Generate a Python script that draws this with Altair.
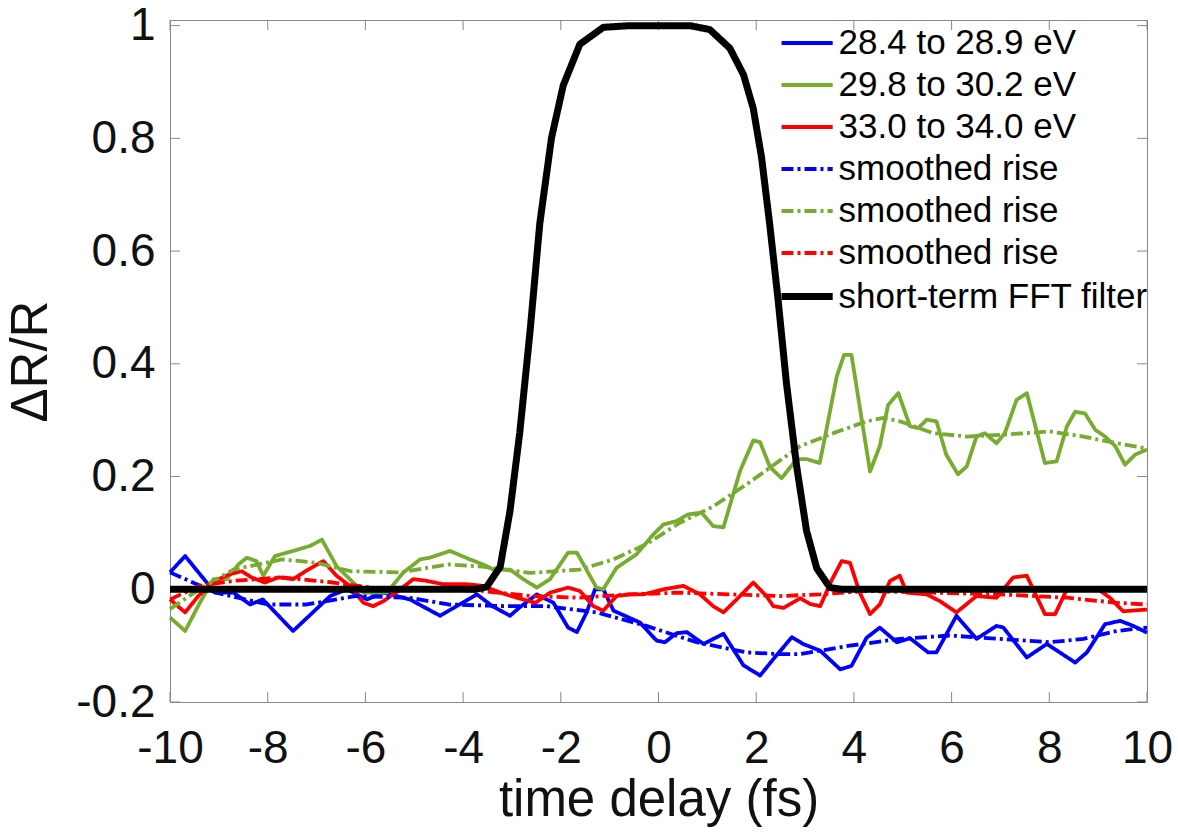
import altair as alt
import pandas as pd

# ---------------- data ----------------
blue_t = [-10.0, -9.69, -9.08, -8.70, -8.36, -8.10, -7.48, -6.72, -6.38, -5.97,
          -5.63, -5.09, -4.47, -4.13, -3.72, -3.40, -3.04, -2.84, -2.49, -2.15,
          -1.85, -1.67, -1.47, -1.30, -1.13, -0.92, -0.38, -0.04, 0.13, 0.37,
          0.58, 0.92, 1.33, 1.74, 2.08, 2.35, 2.73, 2.96, 3.31, 3.72,
          3.95, 4.26, 4.53, 4.88, 5.15, 5.52, 5.69, 6.10, 6.51, 6.92,
          7.06, 7.54, 7.95, 8.53, 8.77, 9.14, 9.45, 9.72, 10.0]
blue_v = [0.030, 0.059, -0.006, -0.006, -0.027, -0.018, -0.074, -0.012, 0.0, -0.018,
          -0.006, -0.018, -0.047, -0.030, -0.009, -0.030, -0.047, -0.032, -0.009, -0.024,
          -0.068, -0.076, -0.041, 0.0, 0.0, -0.038, -0.059, -0.091, -0.094, -0.078,
          -0.076, -0.097, -0.079, -0.135, -0.153, -0.124, -0.085, -0.097, -0.109, -0.142,
          -0.136, -0.086, -0.068, -0.094, -0.087, -0.112, -0.112, -0.047, -0.088, -0.065,
          -0.068, -0.121, -0.097, -0.130, -0.112, -0.062, -0.056, -0.065, -0.077]

green_t = [-10.0, -9.69, -9.39, -9.11, -8.84, -8.60, -8.43, -8.23, -8.09, -7.85,
           -7.48, -7.13, -6.89, -6.59, -6.32, -6.04, -5.56, -5.22, -4.88, -4.68,
           -4.27, -3.86, -3.59, -3.38, -3.04, -2.77, -2.49, -2.22, -1.85, -1.67,
           -1.27, -1.13, -0.86, -0.45, -0.11, 0.10, 0.37, 0.61, 0.88, 1.12,
           1.33, 1.67, 1.94, 2.08, 2.28, 2.52, 2.83, 3.03, 3.30, 3.44,
           3.65, 3.80, 3.95, 4.33, 4.53, 4.70, 4.91, 5.15, 5.32, 5.49,
           5.69, 5.89, 6.13, 6.31, 6.51, 6.68, 6.92, 7.09, 7.33, 7.54,
           7.91, 8.15, 8.36, 8.53, 8.73, 8.94, 9.14, 9.35, 9.55, 9.76,
           10.0]
green_v = [-0.050, -0.074, -0.024, 0.018, 0.018, 0.044, 0.056, 0.050, 0.024, 0.059,
           0.068, 0.077, 0.088, 0.041, 0.018, -0.006, -0.006, 0.030, 0.053, 0.056,
           0.068, 0.053, 0.044, 0.035, 0.035, 0.018, 0.003, 0.018, 0.065, 0.065,
           0.003, 0.0, 0.038, 0.062, 0.097, 0.115, 0.121, 0.133, 0.136, 0.112,
           0.110, 0.210, 0.264, 0.261, 0.217, 0.197, 0.231, 0.231, 0.224, 0.284,
           0.378, 0.416, 0.416, 0.209, 0.254, 0.327, 0.348, 0.289, 0.286, 0.301,
           0.298, 0.239, 0.204, 0.218, 0.271, 0.277, 0.259, 0.277, 0.336, 0.348,
           0.224, 0.227, 0.289, 0.315, 0.312, 0.283, 0.271, 0.254, 0.221, 0.239,
           0.248]

red_t = [-10.0, -9.69, -9.42, -9.08, -8.77, -8.53, -8.33, -8.06, -7.78, -7.48,
         -7.17, -6.86, -6.59, -6.32, -6.04, -5.84, -5.63, -5.33, -5.02, -4.75,
         -4.41, -3.93, -3.59, -3.24, -2.90, -2.52, -2.22, -1.85, -1.61, -1.33,
         -1.13, -0.86, -0.58, -0.31, 0.10, 0.51, 0.85, 1.12, 1.33, 1.60,
         1.94, 2.21, 2.35, 2.56, 2.90, 3.10, 3.31, 3.55, 3.75, 3.92,
         4.12, 4.33, 4.53, 4.74, 4.94, 5.08, 5.49, 5.76, 6.10, 6.51,
         6.92, 7.26, 7.54, 7.91, 8.12, 8.36, 8.63, 8.97, 9.24, 9.51,
         10.0]
red_v = [-0.018, -0.041, -0.012, 0.015, 0.027, 0.032, 0.021, 0.012, 0.021, 0.018,
         0.035, 0.050, 0.024, 0.006, -0.024, -0.030, -0.021, -0.003, 0.018, 0.015,
         0.009, 0.009, 0.006, -0.006, -0.015, -0.024, -0.006, 0.003, -0.003, -0.030,
         -0.038, -0.012, -0.009, -0.009, 0.0, 0.006, -0.009, -0.030, -0.041, -0.018,
         0.012, -0.012, -0.030, -0.033, -0.016, -0.026, -0.030, 0.017, 0.050, 0.047,
         -0.006, -0.044, -0.027, 0.015, 0.024, -0.006, -0.009, -0.021, -0.041, -0.012,
         -0.015, 0.021, 0.024, -0.044, -0.044, 0.0, 0.002, 0.002, -0.015, -0.039,
         -0.036]

blue_s_t = [-10.0, -9.06, -8.0, -7.2, -6.2, -5.1, -4.3, -3.1, -2.29, -1.27,
            -0.25, 0.78, 1.80, 2.49, 2.90, 3.92, 4.94, 5.96, 6.99, 8.01,
            8.70, 9.38, 10.0]
blue_s_v = [0.030, -0.006, -0.027, -0.027, -0.012, -0.015, -0.027, -0.030, -0.030, -0.041,
            -0.065, -0.094, -0.112, -0.115, -0.115, -0.100, -0.088, -0.082, -0.088, -0.094,
            -0.088, -0.074, -0.068]

green_s_t = [-10.0, -9.4, -8.7, -7.7, -7.0, -6.3, -5.3, -4.3, -3.6, -2.63,
             -1.61, -0.92, -0.25, 0.44, 1.12, 1.80, 2.90, 3.58, 4.26, 4.60,
             4.94, 5.62, 6.31, 6.99, 8.01, 8.70, 9.38, 10.0]
green_s_v = [-0.035, 0.0, 0.035, 0.053, 0.047, 0.032, 0.030, 0.044, 0.040, 0.029,
             0.035, 0.053, 0.080, 0.118, 0.147, 0.186, 0.254, 0.277, 0.298, 0.304,
             0.298, 0.277, 0.271, 0.274, 0.280, 0.271, 0.259, 0.250]

red_s_t = [-10.0, -9.4, -8.7, -7.7, -6.66, -5.63, -4.6, -3.6, -2.63, -1.61,
           -0.58, 0.44, 1.46, 2.49, 3.31, 4.26, 5.62, 6.99, 8.36, 9.38, 10.0]
red_s_v = [-0.018, 0.006, 0.015, 0.021, 0.012, 0.0, 0.0, -0.003, -0.012, -0.015,
           -0.009, -0.006, -0.009, -0.012, -0.009, -0.003, -0.006, -0.009, -0.015, -0.024,
           -0.027]

filter_t = [-10.0, -3.75, -3.52, -3.24, -3.04, -2.84, -2.63, -2.43, -2.19, -1.95,
            -1.61, -1.13, -0.58, 0.645, 1.05, 1.46, 1.74, 1.94, 2.11, 2.28,
            2.45, 2.62, 2.83, 3.03, 3.24, 3.51, 3.75, 10.0]
filter_v = [0.0, 0.0, 0.004, 0.040, 0.139, 0.278, 0.457, 0.649, 0.801, 0.894,
            0.967, 0.997, 1.0, 1.0, 0.993, 0.960, 0.913, 0.853, 0.766, 0.645,
            0.512, 0.365, 0.217, 0.104, 0.037, 0.003, 0.0, 0.0]

series_keys = ["28.4 to 28.9 eV", "29.8 to 30.2 eV", "33.0 to 34.0 eV",
               "smoothed rise (blue)", "smoothed rise (green)", "smoothed rise (red)",
               "short-term FFT filter"]
series_colors = ["#0000ff", "#77ac30", "#ff0000", "#0000ff", "#77ac30", "#ff0000", "#000000"]
series_dash = [[1, 0], [1, 0], [1, 0], [12, 4, 3, 4], [12, 4, 3, 4], [12, 4, 3, 4], [1, 0]]
series_width = [3.8, 3.8, 3.8, 3.8, 3.8, 3.8, 7]

x_ticks = [-10, -8, -6, -4, -2, 0, 2, 4, 6, 8, 10]
y_ticks = [-0.2, 0, 0.2, 0.4, 0.6, 0.8, 1]

# ---------------- build tables ----------------
pairs = [(blue_t, blue_v), (green_t, green_v), (red_t, red_v),
         (blue_s_t, blue_s_v), (green_s_t, green_s_v), (red_s_t, red_s_v),
         (filter_t, filter_v)]
rows = []
for key, (ts, vs) in zip(series_keys, pairs):
    assert len(ts) == len(vs), key
    for t, v in zip(ts, vs):
        rows.append({"series": key, "t": t, "v": v})
df = pd.DataFrame(rows)
xt_df = pd.DataFrame({"t": x_ticks})
yt_df = pd.DataFrame({"v": y_ticks})

FONT = "Liberation Sans"
W, H = 977, 682
FRAME = "#888888"
TICK = 10

xscale = alt.Scale(domain=[-10, 10], nice=False, zero=False)
yscale = alt.Scale(domain=[-0.2, 1.01], nice=False, zero=False)

num_expr = "datum.value < 0 ? '-' + format(-datum.value, '~g') : format(datum.value, '~g')"

x_axis = alt.Axis(values=x_ticks, ticks=False, domain=False, grid=False,
                  labelFont=FONT, labelFontSize=46, labelColor="#111111",
                  labelPadding=24, labelFlush=False, labelExpr=num_expr,
                  title="time delay (fs)", titleFont=FONT, titleFontSize=51,
                  titleFontWeight="normal", titleColor="#111111",
                  titleX=W / 2, titleY=113, titleBaseline="alphabetic", titleAlign="center")
y_axis = alt.Axis(values=y_ticks, ticks=False, domain=False, grid=False,
                  labelFont=FONT, labelFontSize=46, labelColor="#111111",
                  labelPadding=15, labelFlush=False, labelExpr=num_expr,
                  title="\u0394R/R", titleFont=FONT, titleFontSize=51,
                  titleFontWeight="normal", titleColor="#111111",
                  titleAngle=270, titleX=-124, titleY=H / 2,
                  titleBaseline="alphabetic", titleAlign="center")

# long horizontal swatch whose row height stays small
legend = alt.Legend(title=None, orient="none", legendX=606, legendY=0,
                    symbolType="M-1.6,0H1.6", symbolSize=1024, symbolOffset=6.6,
                    labelFont=FONT, labelFontSize=35, labelColor="#000000",
                    labelOffset=12, labelLimit=420, labelBaseline="middle",
                    labelExpr="indexof(datum.label, 'smoothed') >= 0 ? 'smoothed rise' : datum.label",
                    padding=5, rowPadding=6)

enc = dict(
    x=alt.X("t:Q", scale=xscale, axis=x_axis),
    y=alt.Y("v:Q", scale=yscale, axis=y_axis),
    color=alt.Color("series:N", scale=alt.Scale(domain=series_keys, range=series_colors),
                    legend=legend, sort=series_keys),
    strokeDash=alt.StrokeDash("series:N", scale=alt.Scale(domain=series_keys, range=series_dash),
                              legend=legend, sort=series_keys),
    strokeWidth=alt.StrokeWidth("series:N",
                                scale=alt.Scale(type="ordinal", domain=series_keys, range=series_width),
                                legend=legend, sort=series_keys),
)

line_layers = [
    alt.Chart(df).transform_filter(alt.datum.series == key)
    .mark_line(strokeJoin="round", strokeCap="butt").encode(**enc)
    for key in series_keys
]

xa = alt.X("t:Q", scale=xscale, axis=x_axis)
ya = alt.Y("v:Q", scale=yscale, axis=y_axis)
tick_bottom = alt.Chart(xt_df).mark_rule(color=FRAME, strokeWidth=1).encode(
    x=xa, y=alt.value(H), y2=alt.value(H - TICK))
tick_top = alt.Chart(xt_df).mark_rule(color=FRAME, strokeWidth=1).encode(
    x=xa, y=alt.value(0), y2=alt.value(TICK))
tick_left = alt.Chart(yt_df).mark_rule(color=FRAME, strokeWidth=1).encode(
    y=ya, x=alt.value(0), x2=alt.value(TICK))
tick_right = alt.Chart(yt_df).mark_rule(color=FRAME, strokeWidth=1).encode(
    y=ya, x=alt.value(W), x2=alt.value(W - TICK))

chart = alt.layer(tick_bottom, tick_top, tick_left, tick_right, *line_layers).properties(
    width=W, height=H,
    autosize=alt.AutoSizeParams(type="none"),
    padding={"left": 170, "top": 20, "right": 31, "bottom": 137},
    background="white",
).configure_view(stroke=FRAME, strokeWidth=1)

chart.save("out.html", embed_options={"renderer": "svg", "actions": False})
